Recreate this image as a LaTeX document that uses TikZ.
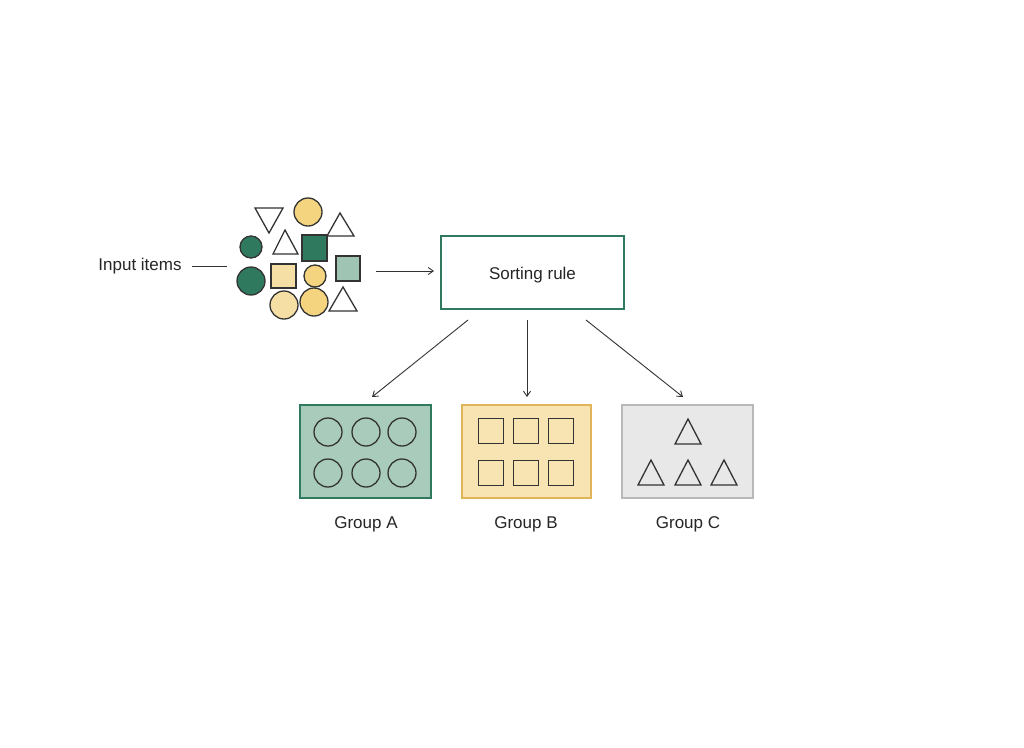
\documentclass[tikz,border=0pt]{standalone}
\usepackage{fontspec}
\setmainfont{Liberation Sans}
\usetikzlibrary{arrows.meta}
\definecolor{dgreen}{HTML}{2F7A5E}
\definecolor{lgreen}{HTML}{9FC4B3}
\definecolor{ayellow}{HTML}{F5D480}
\definecolor{pyellow}{HTML}{F6DFA4}
\definecolor{boxA}{HTML}{A9CBBB}
\definecolor{boxB}{HTML}{F8E4B2}
\definecolor{boxBline}{HTML}{E0B45A}
\definecolor{boxC}{HTML}{E8E8E8}
\definecolor{boxCline}{HTML}{B8B8B8}
\definecolor{ink}{HTML}{333333}
\tikzset{
  lbl/.style={font=\fontsize{17}{20}\selectfont, text=black!85, inner sep=0pt},
  shp/.style={draw=ink, line width=1.3pt},
  conn/.style={draw=ink, line width=0.9pt},
  arr/.style={conn, -{Straight Barb[length=5pt,width=7pt]}},
  grp/.style={line width=1.6pt},
}
\begin{document}
\begin{tikzpicture}[x=1pt,y=-1pt]
\useasboundingbox (0,0) rectangle (1024,747);
\fill[white] (0,0) rectangle (1024,747);

% input label
\node[lbl] (inp) at (140,266.5) {Input items};
\coordinate (clusterL) at (227,266);
\coordinate (inpR) at (192,266);
\draw[conn] (inpR) -- (clusterL);

% cluster of items
\draw[shp] (255,208) -- (283,208) -- (269,233) -- cycle;
\draw[shp, fill=ayellow] (308,212) circle (14);
\draw[shp] (340,213) -- (354,236) -- (327,236) -- cycle;
\draw[shp] (285,230) -- (298,254) -- (273,254) -- cycle;
\draw[shp, fill=dgreen] (302,235) rectangle (327,261);
\draw[shp, fill=dgreen] (251,247) circle (11);
\draw[shp, fill=dgreen] (251,281) circle (14);
\draw[shp, fill=pyellow] (271,264) rectangle (296,288);
\draw[shp, fill=ayellow] (315,276) circle (11);
\draw[shp, fill=lgreen] (336,256) rectangle (360,281);
\draw[shp, fill=pyellow] (284,305) circle (14);
\draw[shp, fill=ayellow] (314,302) circle (14);
\draw[shp] (343,287) -- (357,311) -- (329,311) -- cycle;

% sorting rule
\node[draw=dgreen, line width=1.6pt, minimum width=183pt, minimum height=73pt, inner sep=0pt] (rule) at (532.5,272.5) {};
\node[lbl] (ruletxt) at (532.5,275) {Sorting rule};
\coordinate (clusterR) at (376,271);
\coordinate (ruleIn) at (434,271);
\draw[arr] (clusterR) -- (ruleIn);

% groups
\node[grp, draw=dgreen, fill=boxA, minimum width=131pt, minimum height=93pt, inner sep=0pt] (gA) at (365.5,451.5) {};
\node[grp, draw=boxBline, fill=boxB, minimum width=129pt, minimum height=93pt, inner sep=0pt] (gB) at (526.5,451.5) {};
\node[grp, draw=boxCline, fill=boxC, minimum width=131pt, minimum height=93pt, inner sep=0pt] (gC) at (687.5,451.5) {};

\coordinate (r1) at (468,320);
\coordinate (r2) at (527,320);
\coordinate (r3) at (586,320);
\coordinate (a1) at (372,397);
\coordinate (a2) at (527,397);
\coordinate (a3) at (683,397);
\draw[arr] (r1) -- (a1);
\draw[arr] (r2) -- (a2);
\draw[arr] (r3) -- (a3);

% group A circles
\foreach \x in {328,366,402}{
  \foreach \y in {432,473}{
    \draw[shp] (\x,\y) circle (14);
  }
}
% group B squares
\foreach \x in {491,526,561}{
  \foreach \y in {431,473}{
    \draw[shp] (\x-12.5,\y-12.5) rectangle (\x+12.5,\y+12.5);
  }
}
% group C triangles
\draw[shp] (688,419) -- (701,444) -- (675,444) -- cycle;
\foreach \x in {651,688,724}{
  \draw[shp] (\x,460) -- (\x+13,485) -- (\x-13,485) -- cycle;
}

\node[lbl] (lA) at (366,524) {Group A};
\node[lbl] (lB) at (526,524) {Group B};
\node[lbl] (lC) at (688,524) {Group C};
\end{tikzpicture}
\end{document}
